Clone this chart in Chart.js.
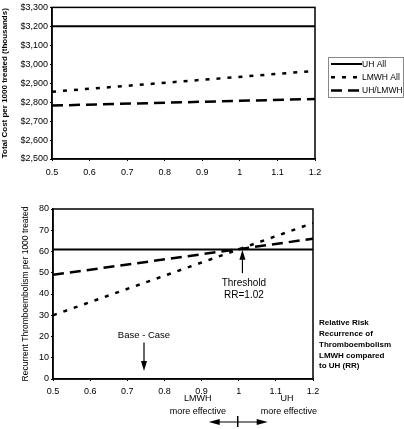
<!DOCTYPE html>
<html>
<head>
<meta charset="utf-8">
<script src="https://cdn.jsdelivr.net/npm/chart.js@4"></script>
<style>
  html, body { margin: 0; padding: 0; background: #fff; }
  #wrap { position: relative; width: 404px; height: 429px; overflow: hidden; }
  #costWrap { position: absolute; left: 0; top: 0; width: 404px; height: 190px; }
  #recWrap { position: absolute; left: 0; top: 195px; width: 404px; height: 234px; }
</style>
</head>
<body>
<div id="wrap">
  <div id="costWrap"><canvas id="costChart"></canvas></div>
  <div id="recWrap"><canvas id="recChart"></canvas></div>
</div>
<script>
// Sensitivity of cost and outcome to the relative risk (RR) of recurrence.

// ─── Data ────────────────────────────────────────────────────────────────────

const RR = [0.5, 1.2];

// Total cost per 1000 treated (thousands of $)
const COST_UH = [3200, 3200];
const COST_LMWH = [2855, 2965];
const COST_UH_LMWH = [2782, 2817];

// Recurrent thromboembolism per 1000 treated
const REC_UH = [61, 61];
const REC_LMWH = [30, 73.4];
const REC_UH_LMWH = [49, 66];

const SERIES_NAMES = ["UH All", "LMWH All", "UH/LMWH"];

const X_TICK_LABELS = ["0.5", "0.6", "0.7", "0.8", "0.9", "1", "1.1", "1.2"];
const COST_TICK_LABELS = ["$2,500", "$2,600", "$2,700", "$2,800", "$2,900", "$3,000", "$3,100", "$3,200", "$3,300"];
const REC_TICK_LABELS = ["0", "10", "20", "30", "40", "50", "60", "70", "80"];

const RR_NOTE = ["Relative Risk", "Recurrence of", "Thromboembolism", "LMWH compared", "to UH (RR)"];

// ─── Styling ─────────────────────────────────────────────────────────────────

const INK = "#000";
const FONT = "'Liberation Sans', Arial, sans-serif";

Chart.defaults.font.family = FONT;
Chart.defaults.color = INK;
Chart.defaults.animation = false;

const LINE_STYLES = [
  { borderWidth: 2, borderDash: [] },
  { borderWidth: 2.5, borderDash: [4, 7] },
  { borderWidth: 2.5, borderDash: [11, 6] },
];

function toPoints(ys) {
  return ys.map((y, i) => ({ x: RR[i], y }));
}

function makeDatasets(seriesList) {
  return seriesList.map((ys, i) => ({
    label: SERIES_NAMES[i],
    data: toPoints(ys),
    borderColor: INK,
    borderWidth: LINE_STYLES[i].borderWidth,
    borderDash: LINE_STYLES[i].borderDash,
    pointRadius: 0,
    fill: false,
    tension: 0,
  }));
}

function xScale(labelPad, bottomSpace) {
  return {
    type: "linear",
    min: 0.5,
    max: 1.2,
    afterBuildTicks: (s) => {
      s.ticks = X_TICK_LABELS.map((t) => ({ value: parseFloat(t) }));
    },
    ticks: {
      font: { size: 9 },
      padding: labelPad,
      maxRotation: 0,
      callback: (v, i) => X_TICK_LABELS[i],
    },
    grid: { drawOnChartArea: false, tickLength: 2, color: INK },
    border: { color: INK, width: 1.5 },
    afterFit: (s) => { s.height = bottomSpace; },
  };
}

function yScale(min, max, step, labels, title, titlePad, width) {
  return {
    min,
    max,
    ticks: {
      stepSize: step,
      font: { size: 9 },
      padding: 2,
      callback: (v, i) => labels[i],
    },
    grid: { drawOnChartArea: false, tickLength: 2, color: INK },
    border: { color: INK, width: 1.5 },
    title: {
      display: true,
      text: title.text,
      font: { size: title.size, weight: title.weight },
      padding: { top: titlePad, bottom: 0 },
    },
    afterFit: (s) => { s.width = width; },
  };
}

// Closes the plot box (top and right edges)
const boxPlugin = {
  id: "box",
  afterDraw(chart) {
    const { ctx, chartArea: a } = chart;
    ctx.save();
    ctx.strokeStyle = INK;
    ctx.lineWidth = 1.5;
    ctx.strokeRect(a.left, a.top, a.right - a.left, a.bottom - a.top);
    ctx.restore();
  },
};

// Boxed legend drawn to the right of the cost chart
const legendPlugin = {
  id: "sideLegend",
  afterDraw(chart) {
    const { ctx } = chart;
    const left = 328, top = 57, w = 75, h = 40;
    ctx.save();
    ctx.strokeStyle = "#888";
    ctx.lineWidth = 1;
    ctx.strokeRect(left + 0.5, top + 0.5, w, h);
    ctx.font = `8.5px ${FONT}`;
    ctx.textBaseline = "middle";
    ctx.fillStyle = INK;
    chart.data.datasets.forEach((ds, i) => {
      const y = top + 7 + i * 13.3;
      ctx.beginPath();
      ctx.strokeStyle = INK;
      ctx.lineWidth = ds.borderWidth;
      ctx.setLineDash(ds.borderDash);
      ctx.moveTo(left + 3, y);
      ctx.lineTo(left + 34, y);
      ctx.stroke();
      ctx.setLineDash([]);
      ctx.fillText(ds.label, left + 34, y + 0.5);
    });
    ctx.restore();
  },
};

function arrowHead(ctx, x, y, dx, dy, len, half) {
  // tip at (x, y), pointing along (dx, dy)
  const bx = x - dx * len, by = y - dy * len;
  ctx.beginPath();
  ctx.moveTo(x, y);
  ctx.lineTo(bx - dy * half, by + dx * half);
  ctx.lineTo(bx + dy * half, by - dx * half);
  ctx.closePath();
  ctx.fill();
}

function vArrow(ctx, x, y0, y1) {
  const dir = Math.sign(y1 - y0);
  ctx.beginPath();
  ctx.moveTo(x, y0);
  ctx.lineTo(x, y1 - dir * 8);
  ctx.stroke();
  arrowHead(ctx, x, y1, 0, dir, 10, 3);
}

function hArrow(ctx, x0, x1, y) {
  const dir = Math.sign(x1 - x0);
  ctx.beginPath();
  ctx.moveTo(x0, y);
  ctx.lineTo(x1 - dir * 8, y);
  ctx.stroke();
  arrowHead(ctx, x1, y, dir, 0, 11, 3);
}

// Annotations on the recurrence chart
const notesPlugin = {
  id: "notes",
  afterDraw(chart) {
    const { ctx, chartArea: a } = chart;
    const xs = chart.scales.x, ys = chart.scales.y;
    ctx.save();
    ctx.fillStyle = INK;
    ctx.strokeStyle = INK;
    ctx.lineWidth = 1.2;
    ctx.textAlign = "center";
    ctx.textBaseline = "middle";

    // Base case
    const bx = xs.getPixelForValue(0.745);
    ctx.font = `9.5px ${FONT}`;
    ctx.fillText("Base - Case", bx, ys.getPixelForValue(20.7));
    vArrow(ctx, bx, ys.getPixelForValue(17.2), ys.getPixelForValue(3.8));

    // Threshold
    const tx = xs.getPixelForValue(1.01);
    vArrow(ctx, tx, ys.getPixelForValue(49.8), ys.getPixelForValue(60.8));
    ctx.font = `10px ${FONT}`;
    ctx.fillText("Threshold", tx + 1.5, ys.getPixelForValue(45.2));
    ctx.fillText("RR=1.02", tx + 1.5, ys.getPixelForValue(39.5));

    // Who is more effective, under the axis
    const lowY = a.bottom + 20, lowY2 = a.bottom + 33;
    ctx.font = `9px ${FONT}`;
    ctx.fillText("LMWH", xs.getPixelForValue(0.89), lowY);
    ctx.fillText("more effective", xs.getPixelForValue(0.89), lowY2);
    ctx.fillText("UH", xs.getPixelForValue(1.13), lowY);
    ctx.fillText("more effective", xs.getPixelForValue(1.135), lowY2);

    const ay = a.bottom + 43;
    const mid = xs.getPixelForValue(1.0) - 1;
    ctx.lineWidth = 1;
    hArrow(ctx, mid, mid - 29, ay);
    hArrow(ctx, mid, mid + 30, ay);
    ctx.lineWidth = 1.5;
    ctx.beginPath();
    ctx.moveTo(mid, ay - 6);
    ctx.lineTo(mid, ay + 5);
    ctx.stroke();

    // Axis note at the right
    ctx.textAlign = "left";
    ctx.font = `bold 8px ${FONT}`;
    RR_NOTE.forEach((line, i) => {
      ctx.fillText(line, a.right + 6, 128 + i * 10.8);
    });
    ctx.restore();
  },
};

// ─── Charts ──────────────────────────────────────────────────────────────────

new Chart(document.getElementById("costChart"), {
  type: "line",
  data: { datasets: makeDatasets([COST_UH, COST_LMWH, COST_UH_LMWH]) },
  options: {
    responsive: true,
    maintainAspectRatio: false,
    layout: { padding: { top: 5, right: 89, bottom: 0, left: 0 } },
    plugins: { legend: { display: false }, tooltip: { enabled: false } },
    scales: {
      x: xScale(6, 31),
      y: yScale(2500, 3300, 100, COST_TICK_LABELS,
        { text: "Total Cost per 1000 treated (thousands)", size: 8, weight: "bold" }, 0, 52),
    },
  },
  plugins: [boxPlugin, legendPlugin],
});

new Chart(document.getElementById("recChart"), {
  type: "line",
  data: { datasets: makeDatasets([REC_UH, REC_LMWH, REC_UH_LMWH]) },
  options: {
    responsive: true,
    maintainAspectRatio: false,
    layout: { padding: { top: 14, right: 91, bottom: 0, left: 0 } },
    plugins: { legend: { display: false }, tooltip: { enabled: false } },
    scales: {
      x: xScale(5, 50),
      y: yScale(0, 80, 10, REC_TICK_LABELS,
        { text: "Recurrent Thromboembolism per 1000 treated", size: 8.5, weight: "normal" }, 21, 53),
    },
  },
  plugins: [boxPlugin, notesPlugin],
});
</script>
</body>
</html>
